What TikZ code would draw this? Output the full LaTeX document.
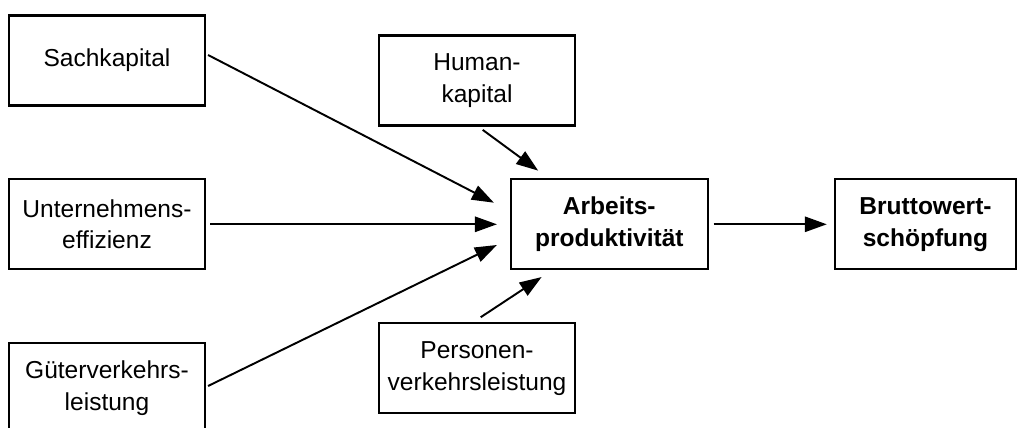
\documentclass[tikz,border=0pt]{standalone}
\usepackage{fontspec}
\setmainfont{Liberation Sans}
\usetikzlibrary{arrows.meta,calc}
\begin{document}
\begin{tikzpicture}[x=0.75pt,y=-0.75pt,
  box/.style={draw, line width=1.6pt, inner sep=0pt, align=center,
    minimum width=147pt, minimum height=67.5pt,
    font=\fontsize{18.4}{23.8}\selectfont},
  boldbox/.style={box, font=\fontsize{18.4}{23.8}\selectfont\bfseries},
  arr/.style={line width=1.45pt, -{Triangle[length=16.5pt,width=11.5pt]}}
]
\useasboundingbox (0,0) rectangle (1017,428);
\node[box] (sach) at (107,60.5) {Sachkapital};
\node[box] (unter) at (107,224.3) {Unternehmens-\\effizienz};
\node[box] (gueter) at (107,388) {Güterverkehrs-\\leistung};
\node[box] (human) at (477,80.5) {Human-\\kapital};
\node[box] (pers) at (477,368.3) {Personen-\\verkehrsleistung};
\node[boldbox, minimum width=147.5pt] (arb) at (609.3,224.3) {Arbeits-\\produktivität};
\node[boldbox, minimum width=135.5pt] (brutto) at (925.5,224.3) {Bruttowert-\\schöpfung};

\draw[arr] ($(sach.east)+(2,-5.5)$) -- ($(arb.west)+(-16,-21.6)$);
\draw[arr] ($(unter.east)+(4,0)$) -- ($(arb.west)+(-13,0)$);
\draw[arr] ($(gueter.east)+(2,-2)$) -- ($(arb.west)+(-13,20.7)$);
\draw[arr] ($(human.south)+(5.7,3.3)$) -- ($(arb.north west)+(28.3,-7.6)$);
\draw[arr] ($(pers.north)+(3.7,-5)$) -- ($(arb.south west)+(31.7,6.7)$);
\draw[arr] ($(arb.east)+(5,0)$) -- ($(brutto.west)+(-7.3,0)$);
\end{tikzpicture}
\end{document}
